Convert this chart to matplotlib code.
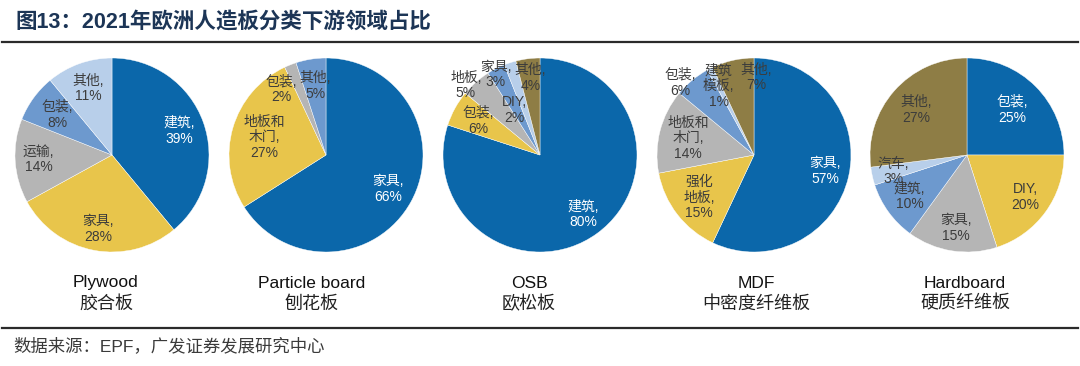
import matplotlib
matplotlib.use("Agg")
import matplotlib.pyplot as plt
import numpy as np

plt.rcParams['font.family'] = ['Liberation Sans', 'Noto Sans CJK SC', 'DejaVu Sans']

# 数据
titles_en = ['Plywood', 'Particle board', 'OSB', 'MDF', 'Hardboard']
titles_cn = ['胶合板', '刨花板', '欧松板', '中密度纤维板', '硬质纤维板']

plywood_labels = ['建筑', '家具', '运输', '包装', '其他']
plywood_values = [39, 28, 14, 8, 11]

particle_labels = ['家具', '地板和\n木门', '包装', '其他']
particle_values = [66, 27, 2, 5]

osb_labels = ['建筑', '包装', '地板', '家具', 'DIY', '其他']
osb_values = [80, 6, 5, 3, 2, 4]

mdf_labels = ['家具', '强化\n地板', '地板和\n木门', '包装', '建筑\n模板', '其他']
mdf_values = [57, 15, 14, 6, 1, 7]

hardboard_labels = ['包装', 'DIY', '家具', '建筑', '汽车', '其他']
hardboard_values = [25, 20, 15, 10, 3, 27]

all_labels = [plywood_labels, particle_labels, osb_labels, mdf_labels, hardboard_labels]
all_values = [plywood_values, particle_values, osb_values, mdf_values, hardboard_values]

# 样式
c_blue = '#0B67AA'
c_yellow = '#E8C54B'
c_gray = '#B5B5B5'
c_mid = '#6D99CE'
c_light = '#B8CFEA'
c_olive = '#8E7D45'
palette = [c_blue, c_yellow, c_gray, c_mid, c_light, c_olive]

label_dist = [
    [0.74, 0.78, 0.76, 0.70, 0.73],
    [0.73, 0.66, 0.80, 0.72],
    [0.76, 0.73, 1.02, 0.92, 0.58, 0.78],
    [0.75, 0.72, 0.70, 1.04, 0.80, 0.80],
    [0.66, 0.74, 0.76, 0.73, 0.78, 0.70],
]
# 小扇区标签微调 (图序号, 扇区序号): (dx, dy)
nudge = {
    (1, 2): (-0.17, -0.07),
    (2, 2): (-0.09, -0.05),
    (2, 3): (-0.04, 0.01),
    (2, 4): (-0.08, -0.09),
    (2, 5): (0.0, 0.02),
    (3, 3): (-0.10, -0.06),
    (3, 5): (0.20, 0.02),
}

W, H = 1080, 366
pie_cx = [112, 326, 540, 754, 967]
caption_x = [106, 312, 529, 756, 965]
pie_cy = 155
r = 97

fig = plt.figure(figsize=(W / 100, H / 100), dpi=100)

for i in range(5):
    ax = fig.add_axes([(pie_cx[i] - r) / W, 1 - (pie_cy + r) / H, 2 * r / W, 2 * r / H])
    vals = all_values[i]
    wedges, _ = ax.pie(vals, colors=palette[:len(vals)], startangle=90, counterclock=False,
                       radius=1, wedgeprops=dict(edgecolor='white', linewidth=0.3))
    ax.set_xlim(-1, 1)
    ax.set_ylim(-1, 1)
    ax.axis('off')
    for j, w in enumerate(wedges):
        ang = np.deg2rad((w.theta1 + w.theta2) / 2)
        d = label_dist[i][j]
        dx, dy = nudge.get((i, j), (0, 0))
        txt = f'{all_labels[i][j]},\n{vals[j]}%'
        col = 'white' if j == 0 else '#3c3c3c'
        ax.text(d * np.cos(ang) + dx, d * np.sin(ang) + dy, txt, ha='center', va='center',
                multialignment='center', fontsize=10, color=col, linespacing=1.15)
    fig.text(caption_x[i] / W, 1 - 283 / H, titles_en[i], ha='center', va='center',
             fontsize=12.5, color='#111111')
    fig.text(caption_x[i] / W, 1 - 304 / H, titles_cn[i], ha='center', va='center',
             fontsize=13, color='#222222')

fig.text(15 / W, 1 - 22 / H, '图13：2021年欧洲人造板分类下游领域占比', ha='left', va='center',
         fontsize=15.5, fontweight='bold', color='#1C3556')
fig.text(13 / W, 1 - 346 / H, '数据来源：EPF，广发证券发展研究中心', ha='left', va='center',
         fontsize=12.5, color='#3a3a3a')

fig.add_artist(plt.Line2D([2 / W, 1078 / W], [1 - 42 / H, 1 - 42 / H], color='#2b2b2b', lw=1.6))
fig.add_artist(plt.Line2D([2 / W, 1078 / W], [1 - 328 / H, 1 - 328 / H], color='#2b2b2b', lw=1.6))

fig.savefig('out.png', dpi=100)
